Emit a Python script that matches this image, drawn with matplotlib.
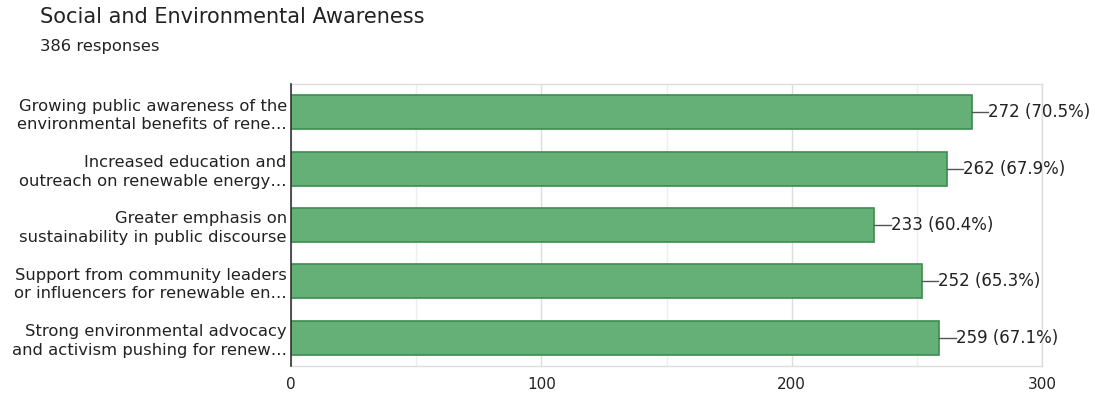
import matplotlib
matplotlib.use("Agg")
import matplotlib.pyplot as plt

categories = [
    "Growing public awareness of the\nenvironmental benefits of rene…",
    "Increased education and\noutreach on renewable energy…",
    "Greater emphasis on\nsustainability in public discourse",
    "Support from community leaders\nor influencers for renewable en…",
    "Strong environmental advocacy\nand activism pushing for renew…",
]
counts = [272, 262, 233, 252, 259]
percents = [70.5, 67.9, 60.4, 65.3, 67.1]
xticks = [0, 100, 200, 300]

plt.rcParams['font.family'] = ['DejaVu Sans']

fig = plt.figure(figsize=(10.95, 3.96), dpi=100)
ax = fig.add_axes([291/1095, 1 - 366/396, (1042-291)/1095, (366-84)/396])

y = list(range(len(categories)))
ax.barh(y, counts, height=0.6, color="#64b077", edgecolor="#3d8b50", linewidth=1.2, zorder=3)
ax.set_ylim(len(categories) - 0.5, -0.5)
ax.set_xlim(0, 300)
ax.set_yticks(y)
ax.set_yticklabels(categories, fontsize=11.8, color="#222222", linespacing=1.3)
ax.set_xticks(xticks)
ax.set_xticklabels([str(t) for t in xticks], fontsize=11, color="#222222")
ax.set_xticks([50, 150, 250], minor=True)
ax.tick_params(axis='both', which='both', length=0)
ax.tick_params(axis='y', pad=3)
ax.tick_params(axis='x', pad=8)
ax.grid(axis='x', which='major', color="#dddddd", linewidth=1, zorder=0)
ax.grid(axis='x', which='minor', color="#eeeeee", linewidth=1, zorder=0)
for s in ['top', 'right', 'bottom']:
    ax.spines[s].set_color("#dddddd")
    ax.spines[s].set_linewidth(1)
ax.spines['left'].set_color("#333333")
ax.spines['left'].set_linewidth(1.2)
ax.spines['left'].set_zorder(4)

for i, (c, p) in enumerate(zip(counts, percents)):
    ax.plot([c, c + 6.5], [i, i], color="#555555", linewidth=1, zorder=3, clip_on=False)
    ax.text(c + 6.5, i, f"{c} ({p}%)", va='center', ha='left', fontsize=12, color="#222222")

fig.text(40/1095, 1 - 17/396, "Social and Environmental Awareness", fontsize=15, color="#222222", va='center', ha='left')
fig.text(40/1095, 1 - 46/396, "386 responses", fontsize=11.8, color="#222222", va='center', ha='left')

fig.savefig("out.png", dpi=100)
